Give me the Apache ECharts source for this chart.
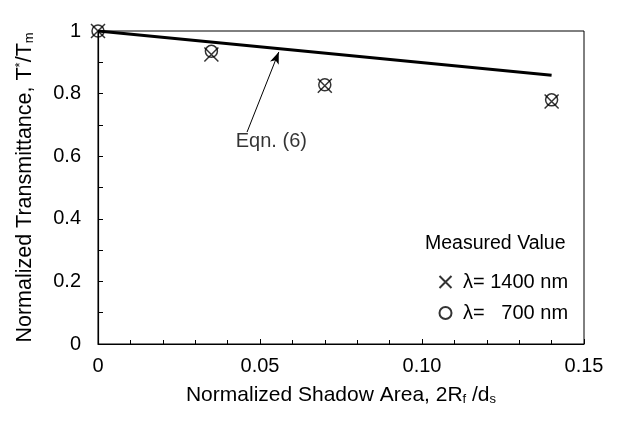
<!DOCTYPE html>
<html>
<head>
<meta charset="utf-8">
<script src="https://cdn.jsdelivr.net/npm/echarts@6/dist/echarts.min.js"></script>
<style>html,body{margin:0;padding:0;background:#fff}#c{width:622px;height:425px}</style>
</head>
<body>
<div id="c"></div>
<script>
// ---- data ----
const xTicks = ['0', '0.05', '0.10', '0.15'];
const yTicks = ['0', '0.2', '0.4', '0.6', '0.8', '1'];
const shadowArea = [0, 0.035, 0.07, 0.14];
const trans1400 = [1.0, 0.925, 0.825, 0.775];
const trans700 = [1.0, 0.935, 0.828, 0.78];
const eqnX = [0, 0.14];
const eqnY = [1.0, 0.859];
const arrowFrom = [0.046, 0.677];
const arrowTo = [0.0558, 0.933];
const eqnLabelPos = [0.0535, 0.648];
const legendNames = ['\u03bb= 1400 nm', '\u03bb= \u2007700 nm'];

const FONT = '"Liberation Sans", Arial, Helvetica, sans-serif';
const chart = echarts.init(document.getElementById('c'));
const xPath = 'path://M0,0L10,10M10,0L0,10';

chart.setOption({
  animation: false,
  backgroundColor: '#fff',
  textStyle: { fontFamily: FONT, color: '#000' },
  grid: { left: 98, right: 38, top: 31, bottom: 81, show: true, borderColor: '#000', borderWidth: 1, backgroundColor: 'transparent' },
  xAxis: {
    type: 'value', min: 0, max: 0.15, interval: 0.05,
    axisLine: { show: true, lineStyle: { color: '#000', width: 1.2 } },
    axisTick: { show: true, inside: true, length: 5, lineStyle: { color: '#000' } },
    minorTick: { show: true, splitNumber: 5, length: 4, lineStyle: { color: '#000' } },
    splitLine: { show: false },
    axisLabel: { fontSize: 20, color: '#000', fontFamily: FONT, margin: 12,
      formatter: (v) => xTicks[Math.round(v / 0.05)] },
    name: 'Normalized Shadow Area, 2R{sub|f} /d{sub|s}',
    nameLocation: 'middle', nameGap: 41,
    nameTextStyle: { fontSize: 21, color: '#000', fontFamily: FONT,
      rich: { sub: { fontSize: 13, verticalAlign: 'bottom', padding: [8, 0, 0, 0], fontFamily: FONT, color: '#000' } } }
  },
  yAxis: {
    type: 'value', min: 0, max: 1, interval: 0.2,
    axisLine: { show: true, lineStyle: { color: '#000', width: 1.2 } },
    axisTick: { show: true, inside: true, length: 5, lineStyle: { color: '#000' } },
    minorTick: { show: true, splitNumber: 2, length: 5, lineStyle: { color: '#000' } },
    splitLine: { show: false },
    axisLabel: { fontSize: 20, color: '#000', fontFamily: FONT, margin: 17,
      formatter: (v) => yTicks[Math.round(v / 0.2)] },
    name: 'Normalized Transmittance, T{sup|*}/T{sub|m}',
    nameLocation: 'middle', nameGap: 62, nameRotate: 90,
    nameTextStyle: { fontSize: 21.5, color: '#000', fontFamily: FONT,
      rich: {
        sup: { fontSize: 13, verticalAlign: 'top', padding: [0, 0, 8, 0], fontFamily: FONT, color: '#000' },
        sub: { fontSize: 13, verticalAlign: 'bottom', padding: [8, 0, 0, 0], fontFamily: FONT, color: '#000' }
      } }
  },
  legend: {
    orient: 'vertical', left: 432, top: 267, itemWidth: 13, itemHeight: 12, itemGap: 11,
    data: legendNames, textStyle: { fontSize: 20, color: '#000', fontFamily: FONT, padding: [0, 0, 0, 6] },
    selectedMode: false
  },
  graphic: [{
    type: 'text', left: 425, top: 234,
    style: { text: 'Measured Value', font: '19.5px ' + FONT, fill: '#000' }
  }],
  series: [
    {
      name: 'Eqn. (6)', type: 'line', data: eqnX.map((x, i) => [x, eqnY[i]]),
      showSymbol: false, symbol: 'none', lineStyle: { color: '#000', width: 3 }, z: 2,
      markLine: {
        silent: true, symbol: ['none', 'arrow'], symbolSize: [7, 12],
        label: { show: false },
        lineStyle: { color: '#000', width: 1, type: 'solid' },
        data: [[{ coord: arrowFrom }, { coord: arrowTo }]]
      }
    },
    {
      name: 'label', type: 'scatter', data: [eqnLabelPos], symbolSize: 0, silent: true,
      label: { show: true, position: 'inside', formatter: 'Eqn. (6)', fontSize: 20, color: '#000', fontFamily: FONT }
    },
    {
      name: legendNames[0], type: 'scatter', symbol: xPath, symbolSize: 14,
      data: shadowArea.map((x, i) => [x, trans1400[i]]),
      itemStyle: { color: 'none', borderColor: '#000', borderWidth: 1.5 }, z: 5
    },
    {
      name: legendNames[1], type: 'scatter', symbol: 'circle', symbolSize: 12,
      data: shadowArea.map((x, i) => [x, trans700[i]]),
      itemStyle: { color: 'none', borderColor: '#000', borderWidth: 1.5 }, z: 5
    }
  ]
});
</script>
</body>
</html>
